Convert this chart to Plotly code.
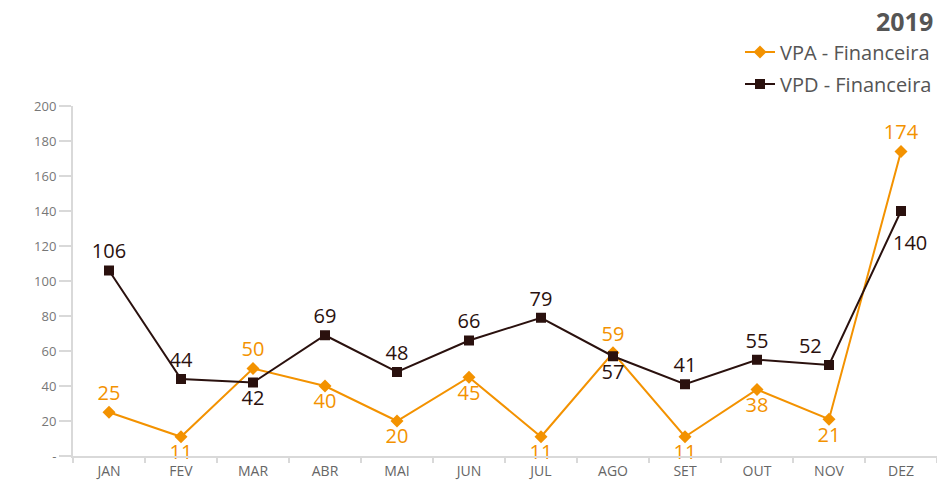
import plotly.graph_objects as go

months = ["JAN", "FEV", "MAR", "ABR", "MAI", "JUN", "JUL", "AGO", "SET", "OUT", "NOV", "DEZ"]
vpa = [25, 11, 50, 40, 20, 45, 11, 59, 11, 38, 21, 174]
vpd = [106, 44, 42, 69, 48, 66, 79, 57, 41, 55, 52, 140]
vpa_pos = ["top center", "bottom center", "top center", "bottom center", "bottom center", "bottom center",
           "bottom center", "top center", "bottom center", "bottom center", "bottom center", "top center"]
vpd_pos = ["top center", "top center", "bottom center", "top center", "top center", "top center",
           "top center", "bottom center", "top center", "top center", "top left", "bottom center"]
y_ticks = [0, 20, 40, 60, 80, 100, 120, 140, 160, 180, 200]
y_labels = ["-", "20", "40", "60", "80", "100", "120", "140", "160", "180", "200"]

ORANGE = "#F39200"
DARK = "#2A110E"
FONT = "Open Sans"

vpd_text = [str(v) for v in vpd]
vpd_text[-1] = ""  # last label placed as an annotation below-right of the point

fig = go.Figure()
fig.add_trace(go.Scatter(
    x=months, y=vpa, name="VPA - Financeira", mode="lines+markers+text",
    line=dict(color=ORANGE, width=2), marker=dict(symbol="diamond", size=10, color=ORANGE),
    text=[str(v) for v in vpa], textposition=vpa_pos,
    textfont=dict(color=ORANGE, size=20, family=FONT), legendgroup="a", cliponaxis=False,
))
fig.add_trace(go.Scatter(
    x=months, y=vpd, name="VPD - Financeira", mode="lines+markers+text",
    line=dict(color=DARK, width=2), marker=dict(symbol="square", size=10, color=DARK),
    text=vpd_text, textposition=vpd_pos,
    textfont=dict(color=DARK, size=20, family=FONT), legendgroup="b", cliponaxis=False,
))

fig.update_layout(
    width=937, height=483,
    margin=dict(l=73, r=0, t=106, b=27),
    paper_bgcolor="white", plot_bgcolor="white",
    font=dict(family=FONT, color="#777777"),
    showlegend=True,
    legend=dict(x=1, xanchor="right", y=1.21, yanchor="top",
                font=dict(size=20, color="#555555", family=FONT),
                tracegroupgap=3, bgcolor="rgba(0,0,0,0)"),
    annotations=[
        dict(text="<b>2019</b>", x=0.998, xref="paper", xanchor="right",
             y=1.242, yref="paper", yanchor="middle", showarrow=False,
             font=dict(size=25, color="#555555", family=FONT)),
        dict(text=str(vpd[-1]), x=months[-1], y=vpd[-1], xref="x", yref="y",
             showarrow=False, xshift=9, yshift=-31,
             font=dict(size=20, color=DARK, family=FONT)),
    ],
)
fig.update_xaxes(
    type="category", showgrid=False, showline=True, linecolor="#d9d9d9", linewidth=2,
    ticks="outside", tickson="boundaries", ticklen=5, tickcolor="#d9d9d9", tickwidth=2,
    tickfont=dict(size=14, color="#666666", family=FONT), range=[-0.5, 11.5],
    ticklabelstandoff=1, automargin=False,
)
fig.update_yaxes(
    range=[0, 200], showgrid=False, zeroline=False, showline=True, linecolor="#d9d9d9", linewidth=2,
    ticks="outside", ticklen=12, tickcolor="#d9d9d9", tickwidth=2,
    tickvals=y_ticks, ticktext=y_labels, tickfont=dict(size=13, color="#777777", family=FONT),
)

fig.write_html("out.html", config={"displayModeBar": False},
               post_script="document.body.style.margin='0';document.body.style.overflow='hidden';")
